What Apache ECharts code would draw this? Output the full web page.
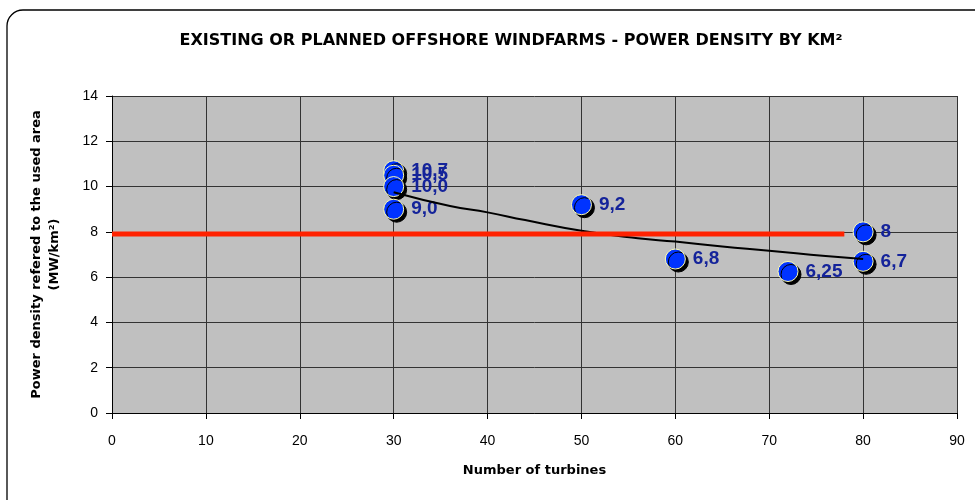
<!DOCTYPE html>
<html>
<head>
<meta charset="utf-8">
<script src="https://cdn.jsdelivr.net/npm/echarts@6/dist/echarts.min.js"></script>
<style>
  html, body { margin: 0; padding: 0; background: #fff; }
  #chart { width: 975px; height: 500px; }
</style>
</head>
<body>
<div id="chart"></div>
<script>
// Offshore windfarms: number of turbines vs. power density (MW/km²)
const turbines = [30, 30, 30, 30, 50, 60, 72, 80, 80];
const density  = [10.7, 10.5, 10.0, 9.0, 9.2, 6.8, 6.25, 8, 6.7];
const labels   = ['10,7', '10,5', '10,0', '9,0', '9,2', '6,8', '6,25', '8', '6,7'];

// Trend curve through the farms (power-law shape)
const trendX = [30, 36, 40, 44, 50, 56, 60, 65, 70, 76, 80];
const trendY = [9.75, 9.14, 8.86, 8.52, 8.05, 7.72, 7.57, 7.35, 7.17, 6.93, 6.8];

// Reference density level
const refX = [0, 78];
const refLevel = 7.9;

const xTicks = [0, 10, 20, 30, 40, 50, 60, 70, 80, 90];
const yTicks = [0, 2, 4, 6, 8, 10, 12, 14];

const font = '"Liberation Sans", Arial, sans-serif';
const wideFont = '"DejaVu Sans", "Liberation Sans", Arial, sans-serif';

const chart = echarts.init(document.getElementById('chart'), null, { renderer: 'canvas' });

chart.setOption({
  backgroundColor: '#ffffff',
  animation: false,
  title: {
    text: 'EXISTING OR PLANNED OFFSHORE WINDFARMS - POWER DENSITY BY KM²',
    left: 506,
    top: 28,
    textAlign: 'center',
    textStyle: { fontFamily: wideFont, fontSize: 16, fontWeight: 'bold', color: '#000' }
  },
  graphic: [{
    type: 'rect',
    shape: { x: 7, y: 10, width: 990, height: 510, r: 16 },
    style: { fill: 'none', stroke: '#000', lineWidth: 1.3 },
    silent: true,
    z: -1
  }],
  grid: { left: 112, right: 18, top: 96, bottom: 87, show: true, backgroundColor: '#c0c0c0', borderWidth: 0 },
  xAxis: {
    type: 'value',
    min: xTicks[0], max: xTicks[xTicks.length - 1], interval: 10,
    name: 'Number of turbines',
    nameLocation: 'middle',
    nameGap: 51,
    nameTextStyle: { fontFamily: wideFont, fontSize: 13, fontWeight: 'bold', color: '#000' },
    axisLine: { show: true, lineStyle: { color: '#000', width: 1 } },
    axisTick: { show: true, length: 6, lineStyle: { color: '#000' } },
    axisLabel: { fontFamily: font, fontSize: 14, color: '#000', margin: 21 },
    splitLine: { show: true, lineStyle: { color: '#333', width: 1 } }
  },
  yAxis: {
    type: 'value',
    min: yTicks[0], max: yTicks[yTicks.length - 1], interval: 2,
    name: 'Power density refered to the used area\n(MW/km²)',
    nameLocation: 'middle',
    nameGap: 48,
    nameRotate: 90,
    nameTextStyle: { fontFamily: wideFont, fontSize: 13, fontWeight: 'bold', color: '#000', lineHeight: 18, align: 'center' },
    axisLine: { show: true, lineStyle: { color: '#000', width: 1 } },
    axisTick: { show: true, length: 6, lineStyle: { color: '#000' } },
    axisLabel: { fontFamily: font, fontSize: 14, color: '#000', margin: 14 },
    splitLine: { show: true, lineStyle: { color: '#333', width: 1 } }
  },
  series: [
    {
      type: 'scatter',
      data: turbines.map((x, i) => [x, density[i]]),
      symbol: 'circle',
      symbolSize: 20,
      itemStyle: {
        color: '#0033ff',
        opacity: 1,
        borderColor: '#ffffb0',
        borderWidth: 1,
        shadowColor: '#000',
        shadowBlur: 0,
        shadowOffsetX: 3,
        shadowOffsetY: 3
      },
      label: {
        show: true,
        position: 'right',
        distance: 7,
        formatter: p => labels[p.dataIndex],
        fontFamily: font,
        fontSize: 19,
        fontWeight: 'bold',
        color: '#14239a',
        opacity: 1,
        textBorderWidth: 0
      },
      z: 2
    },
    {
      type: 'line',
      data: trendX.map((x, i) => [x, trendY[i]]),
      symbol: 'none',
      smooth: true,
      lineStyle: { color: '#000', width: 2 },
      z: 3
    },
    {
      type: 'line',
      data: refX.map(x => [x, refLevel]),
      symbol: 'none',
      lineStyle: { color: '#ff2200', width: 5, cap: 'butt' },
      z: 4
    }
  ]
});
</script>
</body>
</html>
